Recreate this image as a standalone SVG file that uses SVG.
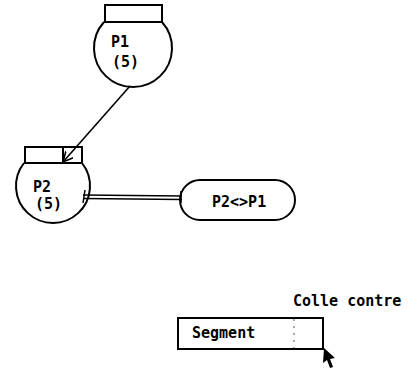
<svg xmlns="http://www.w3.org/2000/svg" width="417" height="368" viewBox="0 0 417 368">
<defs>
<style>
.s{fill:none;stroke:#000;stroke-width:2}
.t{font-family:"DejaVu Sans Mono","Liberation Mono",monospace;font-size:15px;font-weight:bold;fill:#000}
</style>
<marker id="ah" markerWidth="12" markerHeight="12" refX="10" refY="5" orient="auto" markerUnits="userSpaceOnUse">
<path d="M0,0 L10,5 L0,10" fill="none" stroke="#000" stroke-width="1.6"/>
</marker>
</defs>
<rect width="417" height="368" fill="#fff"/>
<g id="P1">
<rect class="s" x="105" y="5" width="57" height="17"/>
<path class="s" d="M104,22 A39,39 0 1 0 162,22"/>
<text class="t" x="111" y="47">P1</text>
<text class="t" x="112" y="67">(5)</text>
</g>
<g id="P2">
<rect class="s" x="25" y="147" width="57" height="16"/>
<line class="s" x1="63" y1="147" x2="63" y2="163"/>
<path class="s" d="M24,163 A37,37 0 1 0 82,163"/>
<text class="t" x="33" y="192">P2</text>
<text class="t" x="35" y="209">(5)</text>
</g>
<g id="P2P1">
<rect class="s" x="180" y="180" width="115" height="40" rx="20" ry="20"/>
<text class="t" x="212" y="207">P2&lt;&gt;P1</text>
</g>
<g id="connectors">
<line x1="130" y1="86" x2="63" y2="162" stroke="#000" stroke-width="1.6" marker-end="url(#ah)"/>
<line x1="83" y1="195" x2="182" y2="196" stroke="#000" stroke-width="1.5"/>
<line x1="83" y1="198.5" x2="182" y2="199.5" stroke="#000" stroke-width="1.5"/>
<line x1="85" y1="190" x2="83" y2="203" stroke="#000" stroke-width="1.5"/>
<line x1="181" y1="191" x2="181" y2="203" stroke="#000" stroke-width="1.5"/>
</g>
<g id="ColleContre">
<text class="t" x="293" y="306">Colle contre</text>
</g>
<g id="Segment">
<rect class="s" x="178" y="318" width="145" height="31"/>
<line x1="294" y1="319" x2="294" y2="348" stroke="#555" stroke-width="1" stroke-dasharray="2,5"/>
<text class="t" x="192" y="338" font-size="14">Segment</text>
</g>
<g id="cursor">
<polygon points="324,348 335,358 330,359 333,367 330,368 327,360 323,363" fill="#000"/>
</g>
</svg>
